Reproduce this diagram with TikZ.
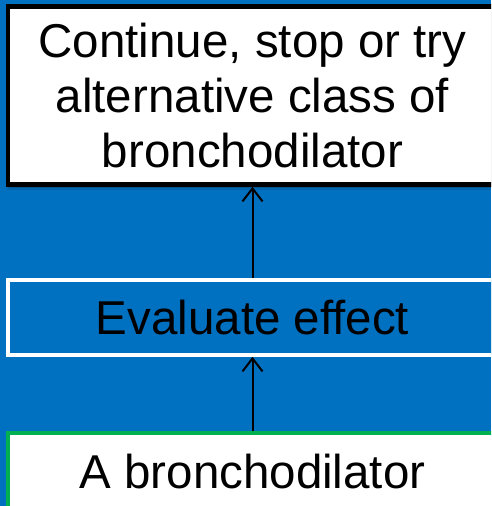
\documentclass[tikz,border=0pt]{standalone}
\usepackage{fontspec}
\setmainfont{Liberation Sans}
\usetikzlibrary{arrows.meta,shadows.blur}
\definecolor{slideblue}{HTML}{0070C0}
\definecolor{boxgreen}{HTML}{00B050}
\tikzset{
  stepbox/.style={rectangle, inner sep=0pt, minimum width=489pt, align=center,
    font=\fontsize{47.5pt}{55pt}\selectfont, text=black},
  link/.style={line width=2pt, draw=black,
    -{Straight Barb[length=13pt,width=20pt,line width=2pt]}}
}
\begin{document}
\begin{tikzpicture}[x=1pt,y=-1pt]
  % canvas
  \fill[slideblue] (0,0) rectangle (491,506);
  \useasboundingbox (0,0) rectangle (491,506);
  \clip (0,0) rectangle (491,506);

  % outcome box
  \node[stepbox, draw=black, line width=4.5pt, fill=white, minimum height=178pt,
        blur shadow={shadow xshift=1pt, shadow yshift=-3pt, shadow opacity=40, shadow blur steps=6}]
    (outcome) at (252.5,95.5) {Continue, stop or try\\alternative class of\\bronchodilator};

  % evaluation box
  \node[stepbox, draw=white, line width=3.5pt, fill=slideblue, minimum height=75pt,
        text height=34pt, text depth=0pt]
    (evaluate) at (252.5,317.5) {Evaluate effect};

  % starting treatment box
  \node[stepbox, draw=boxgreen, line width=4pt, fill=white, minimum height=76pt,
        text height=35pt, text depth=0pt]
    (start) at (252.5,471) {A bronchodilator};

  % connectors
  \draw[link] (evaluate.north) -- (outcome.south);
  \draw[link] (start.north) -- (evaluate.south);
\end{tikzpicture}
\end{document}
